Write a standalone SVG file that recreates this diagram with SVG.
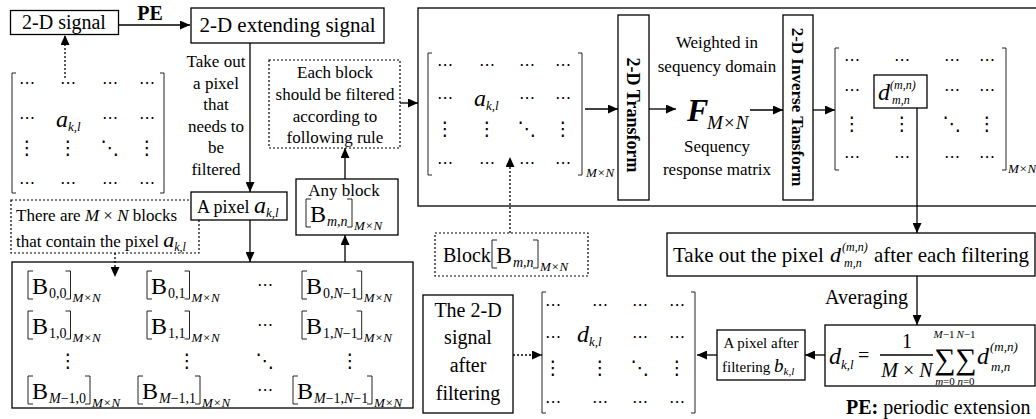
<svg xmlns="http://www.w3.org/2000/svg" width="1036" height="419" viewBox="0 0 1036 419">
<style>
.t{font-family:'Liberation Serif','Times New Roman',serif;fill:#000}
.c{text-anchor:middle}
.e{text-anchor:end}
.i{font-style:italic}
.b{font-weight:bold}
.box{fill:#fff;stroke:#000;stroke-width:1.3}
.dbox{fill:#fff;stroke:#000;stroke-width:1.2;stroke-dasharray:2 2}
.ln{fill:none;stroke:#000;stroke-width:1.3}
.dln{fill:none;stroke:#000;stroke-width:1.3;stroke-dasharray:2 2}
.br{fill:none;stroke:#222;stroke-width:1}
.h{font-family:'DejaVu Sans',sans-serif;font-size:16px;text-anchor:middle;fill:#000}
.v{font-family:'DejaVu Sans',sans-serif;font-size:19px;text-anchor:middle;fill:#000}
</style>
<defs>
<marker id="ah" markerWidth="10" markerHeight="9" refX="10" refY="4.5" orient="auto" markerUnits="userSpaceOnUse"><path d="M0,0 L10,4.5 L0,9 z" fill="#000"/></marker>
</defs>

<g id="signal">
<rect class="box" x="10.5" y="10.5" width="108" height="24"/>
<text class="t c" x="64" y="29" font-size="20">2-D signal</text>
</g>

<g id="extending">
<rect class="box" x="191" y="8" width="193" height="35"/>
<text class="t c" x="287.5" y="32" font-size="21">2-D extending signal</text>
</g>

<g id="matrix-a">
<path class="br" d="M16,73 H12 V193 H16 M160,73 H164 V193 H160"/>
<text class="h" x="27" y="88">⋯</text><text class="h" x="68" y="88">⋯</text><text class="h" x="110" y="88">⋯</text><text class="h" x="147" y="88">⋯</text>
<text class="h" x="27" y="123">⋯</text>
<text class="t i" x="56" y="127" font-size="24">a<tspan font-size="13" dy="4">k,l</tspan></text>
<text class="h" x="110" y="123">⋯</text><text class="h" x="147" y="123">⋯</text>
<text class="v" x="27" y="154">⋮</text><text class="v" x="68" y="154">⋮</text><text class="v" x="110" y="154">⋱</text><text class="v" x="147" y="154">⋮</text>
<text class="h" x="27" y="188">⋯</text><text class="h" x="68" y="188">⋯</text><text class="h" x="110" y="188">⋯</text><text class="h" x="147" y="188">⋯</text>
</g>

<g id="each-block">
<rect class="dbox" x="269" y="60" width="131" height="88"/>
<text class="t c" x="335" y="78" font-size="17">Each block</text>
<text class="t c" x="335" y="100" font-size="17">should be filtered</text>
<text class="t c" x="335" y="122" font-size="17">according to</text>
<text class="t c" x="335" y="143" font-size="17">following rule</text>
</g>

<g id="there-are">
<rect class="dbox" x="11" y="200" width="188" height="53"/>
<text class="t" x="16" y="221" font-size="17">There are <tspan class="i">M</tspan> × <tspan class="i">N</tspan> blocks</text>
<text class="t" x="16" y="247" font-size="17">that contain the pixel <tspan class="i" font-size="22">a</tspan><tspan class="i" font-size="12" dy="4">k,l</tspan></text>
</g>

<g id="a-pixel">
<rect class="box" x="191" y="192" width="96" height="28"/>
<text class="t" x="197" y="213" font-size="18">A pixel <tspan class="i" font-size="24">a</tspan><tspan class="i" font-size="13" dy="4">k,l</tspan></text>
</g>

<g id="any-block">
<rect class="box" x="296" y="179" width="102" height="56"/>
<text class="t c" x="344" y="196" font-size="17">Any block</text>
<path class="br" d="M311,199 H306 V227 H311 M347,199 H352 V227 H347"/>
<text class="t" x="310" y="222" font-size="24">B</text>
<text class="t i" x="327" y="226" font-size="14">m,n</text>
<text class="t i" x="354" y="230" font-size="13">M×N</text>
</g>

<g id="blocks">
<rect class="box" x="12" y="262" width="401" height="146"/>
<path class="br" d="M33,271 H28 V299 H33 M65.5,271 H70.5 V299 H65.5"/>
<text class="t" x="32" y="294" font-size="24">B</text><text class="t" x="49" y="298" font-size="14">0,0</text><text class="t i" x="72.5" y="302" font-size="13">M×N</text>
<path class="br" d="M152,271 H147 V299 H152 M184.5,271 H189.5 V299 H184.5"/>
<text class="t" x="151" y="294" font-size="24">B</text><text class="t" x="168" y="298" font-size="14">0,1</text><text class="t i" x="191.5" y="302" font-size="13">M×N</text>
<text class="h" x="265" y="290">⋯</text>
<path class="br" d="M307,271 H302 V299 H307 M356.7,271 H361.7 V299 H356.7"/>
<text class="t" x="306" y="294" font-size="24">B</text><text class="t" x="323" y="298" font-size="14">0,<tspan class="i">N</tspan>−1</text><text class="t i" x="363.7" y="302" font-size="13">M×N</text>
<path class="br" d="M33,311 H28 V339 H33 M65.5,311 H70.5 V339 H65.5"/>
<text class="t" x="32" y="334" font-size="24">B</text><text class="t" x="49" y="338" font-size="14">1,0</text><text class="t i" x="72.5" y="342" font-size="13">M×N</text>
<path class="br" d="M152,311 H147 V339 H152 M184.5,311 H189.5 V339 H184.5"/>
<text class="t" x="151" y="334" font-size="24">B</text><text class="t" x="168" y="338" font-size="14">1,1</text><text class="t i" x="191.5" y="342" font-size="13">M×N</text>
<text class="h" x="265" y="330">⋯</text>
<path class="br" d="M307,311 H302 V339 H307 M356.7,311 H361.7 V339 H356.7"/>
<text class="t" x="306" y="334" font-size="24">B</text><text class="t" x="323" y="338" font-size="14">1,<tspan class="i">N</tspan>−1</text><text class="t i" x="363.7" y="342" font-size="13">M×N</text>
<text class="v" x="68" y="367">⋮</text><text class="v" x="187" y="367">⋮</text><text class="v" x="265" y="367">⋱</text><text class="v" x="350" y="367">⋮</text>
<path class="br" d="M33,376 H28 V404 H33 M85,376 H90 V404 H85"/>
<text class="t" x="32" y="399" font-size="24">B</text><text class="t" x="49" y="403" font-size="14"><tspan class="i">M</tspan>−1,0</text><text class="t i" x="92" y="407" font-size="13">M×N</text>
<path class="br" d="M143,376 H138 V404 H143 M195,376 H200 V404 H195"/>
<text class="t" x="142" y="399" font-size="24">B</text><text class="t" x="159" y="403" font-size="14"><tspan class="i">M</tspan>−1,1</text><text class="t i" x="202" y="407" font-size="13">M×N</text>
<text class="h" x="265" y="395">⋯</text>
<path class="br" d="M298,376 H293 V404 H298 M367,376 H372 V404 H367"/>
<text class="t" x="297" y="399" font-size="24">B</text><text class="t" x="314" y="403" font-size="14"><tspan class="i">M</tspan>−1,<tspan class="i">N</tspan>−1</text><text class="t i" x="374" y="407" font-size="13">M×N</text>
</g>

<g id="filter-frame">
<rect x="418" y="8" width="630" height="198" fill="none" stroke="#000" stroke-width="1.3"/>
</g>

<g id="matrix-b">
<path class="br" d="M432,53 H428 V175 H432 M578,53 H582 V175 H578"/>
<text class="h" x="445" y="70">⋯</text><text class="h" x="487" y="70">⋯</text><text class="h" x="527" y="70">⋯</text><text class="h" x="563" y="70">⋯</text>
<text class="h" x="445" y="103">⋯</text>
<text class="t i" x="474" y="106" font-size="24">a<tspan font-size="13" dy="4">k,l</tspan></text>
<text class="h" x="527" y="103">⋯</text><text class="h" x="563" y="103">⋯</text>
<text class="v" x="445" y="135">⋮</text><text class="v" x="487" y="135">⋮</text><text class="v" x="527" y="135">⋱</text><text class="v" x="563" y="135">⋮</text>
<text class="h" x="445" y="168">⋯</text><text class="h" x="487" y="168">⋯</text><text class="h" x="527" y="168">⋯</text><text class="h" x="563" y="168">⋯</text>
<text class="t i" x="586" y="177" font-size="13">M×N</text>
</g>

<g id="transform">
<rect class="box" x="618" y="15" width="31" height="185"/>
<text class="t b c" font-size="18" transform="translate(633,115) rotate(90)" dy="6">2-D Transform</text>
</g>

<g id="weight">
<text class="t c" x="717" y="48" font-size="17">Weighted in</text>
<text class="t c" x="717" y="72" font-size="17">sequency domain</text>
<text class="t b i" x="687" y="121" font-size="32">F</text>
<text class="t i" x="707" y="129" font-size="19">M×N</text>
<text class="t c" x="717" y="152" font-size="17">Sequency</text>
<text class="t c" x="717" y="175" font-size="17">response matrix</text>
</g>

<g id="inverse">
<rect class="box" x="783" y="15" width="30" height="185"/>
<text class="t b c" font-size="17" transform="translate(798,107) rotate(90)" dy="6">2-D Inverse Tansform</text>
</g>

<g id="matrix-d">
<path class="br" d="M839,48 H835 V170 H839 M1002,48 H1006 V170 H1002"/>
<text class="h" x="852" y="65">⋯</text><text class="h" x="902" y="65">⋯</text><text class="h" x="952" y="65">⋯</text><text class="h" x="987" y="65">⋯</text>
<text class="h" x="852" y="95">⋯</text>
<rect class="box" x="874" y="75" width="53" height="33"/>
<text class="t i" x="878" y="100" font-size="24">d</text>
<text class="t i" x="890" y="89" font-size="12">(m,n)</text>
<text class="t i" x="892" y="104" font-size="12">m,n</text>
<text class="h" x="952" y="95">⋯</text><text class="h" x="987" y="95">⋯</text>
<text class="v" x="852" y="130">⋮</text><text class="v" x="902" y="130">⋮</text><text class="v" x="952" y="130">⋱</text><text class="v" x="987" y="130">⋮</text>
<text class="h" x="852" y="162">⋯</text><text class="h" x="902" y="162">⋯</text><text class="h" x="952" y="162">⋯</text><text class="h" x="987" y="162">⋯</text>
<text class="t i" x="1008" y="173" font-size="13">M×N</text>
</g>

<g id="block-mn">
<rect class="dbox" x="435" y="233" width="153" height="43"/>
<text class="t" x="443" y="262" font-size="20">Block</text>
<path class="br" d="M497,240 H492 V268 H497 M533,240 H538 V268 H533"/>
<text class="t" x="496" y="263" font-size="24">B</text>
<text class="t i" x="513" y="267" font-size="14">m,n</text>
<text class="t i" x="540" y="271" font-size="13">M×N</text>
</g>

<g id="take-out">
<rect class="box" x="667" y="233" width="368" height="43"/>
<text class="t" x="673" y="262" font-size="21">Take out the pixel</text>
<text class="t i" x="830" y="262" font-size="22">d</text>
<text class="t i" x="842" y="251" font-size="12">(m,n)</text>
<text class="t i" x="844" y="267" font-size="12">m,n</text>
<text class="t e" x="1029" y="262" font-size="21">after each filtering</text>
</g>

<g id="formula">
<rect class="box" x="825" y="325" width="210" height="61"/>
<text class="t i" x="829" y="364" font-size="24">d</text>
<text class="t i" x="841" y="369" font-size="13">k,l</text>
<text class="t" x="858" y="362" font-size="20">=</text>
<text class="t c" x="907" y="348" font-size="20">1</text>
<path class="ln" d="M880,355 H933"/>
<text class="t c i" x="907" y="377" font-size="20">M <tspan font-style="normal">×</tspan> N</text>
<text class="t c i" x="944" y="338" font-size="11">M<tspan font-style="normal">−1</tspan></text>
<text class="t c" x="945" y="369" font-size="30">∑</text>
<text class="t c i" x="945" y="385" font-size="11">m<tspan font-style="normal">=0</tspan></text>
<text class="t c i" x="966" y="338" font-size="11">N<tspan font-style="normal">−1</tspan></text>
<text class="t c" x="966" y="369" font-size="30">∑</text>
<text class="t c i" x="966" y="385" font-size="11">n<tspan font-style="normal">=0</tspan></text>
<text class="t i" x="977" y="364" font-size="24">d</text>
<text class="t i" x="990" y="351" font-size="13">(m,n)</text>
<text class="t i" x="991" y="371" font-size="13">m,n</text>
</g>

<g id="pixel-after">
<rect class="box" x="717" y="330" width="88" height="50"/>
<text class="t c" x="761" y="348" font-size="15">A pixel after</text>
<text class="t" x="722" y="372" font-size="15">filtering <tspan class="i" font-size="19">b</tspan><tspan class="i" font-size="11" dy="3">k,l</tspan></text>
</g>

<g id="matrix-out">
<path class="br" d="M546,292 H542 V413 H546 M691,292 H695 V413 H691"/>
<text class="h" x="553" y="310">⋯</text><text class="h" x="600" y="310">⋯</text><text class="h" x="640" y="310">⋯</text><text class="h" x="677" y="310">⋯</text>
<text class="h" x="553" y="342">⋯</text>
<text class="t i" x="577" y="342" font-size="24">d<tspan font-size="13" dy="4">k,l</tspan></text>
<text class="h" x="640" y="342">⋯</text><text class="h" x="677" y="342">⋯</text>
<text class="v" x="553" y="374">⋮</text><text class="v" x="600" y="374">⋮</text><text class="v" x="640" y="374">⋱</text><text class="v" x="677" y="374">⋮</text>
<text class="h" x="553" y="407">⋯</text><text class="h" x="600" y="407">⋯</text><text class="h" x="640" y="407">⋯</text><text class="h" x="677" y="407">⋯</text>
</g>

<g id="signal-out">
<rect class="box" x="423" y="295" width="90" height="118"/>
<text class="t c" x="468" y="317" font-size="20">The 2-D</text>
<text class="t c" x="468" y="344" font-size="20">signal</text>
<text class="t c" x="468" y="372" font-size="20">after</text>
<text class="t c" x="468" y="400" font-size="20">filtering</text>
</g>

<g id="legend">
<text class="t" x="846" y="414" font-size="20"><tspan class="b">PE:</tspan> periodic extension</text>
</g>

<g id="connectors">
<path class="ln" d="M118,25 H190" marker-end="url(#ah)"/>
<text class="t b c" x="150" y="20" font-size="20">PE</text>
<path class="dln" d="M65,78 V35" marker-end="url(#ah)"/>
<path class="ln" d="M250,43 V192" marker-end="url(#ah)"/>
<text class="t c" x="216" y="67" font-size="17">Take out</text>
<text class="t c" x="216" y="89" font-size="17">a pixel</text>
<text class="t c" x="216" y="110" font-size="17">that</text>
<text class="t c" x="216" y="132" font-size="17">needs to</text>
<text class="t c" x="216" y="153" font-size="17">be</text>
<text class="t c" x="216" y="175" font-size="17">filtered</text>
<path class="dln" d="M115,253 V277" marker-end="url(#ah)"/>
<path class="ln" d="M250,220 V262" marker-end="url(#ah)"/>
<path class="ln" d="M345,262 V235" marker-end="url(#ah)"/>
<path class="ln" d="M345,179 V148" marker-end="url(#ah)"/>
<path class="ln" d="M400,103 H418" marker-end="url(#ah)"/>
<path class="ln" d="M585,109 H618" marker-end="url(#ah)"/>
<path class="ln" d="M649,109 H676" marker-end="url(#ah)"/>
<path class="ln" d="M750,110 H783" marker-end="url(#ah)"/>
<path class="ln" d="M813,110 H835" marker-end="url(#ah)"/>
<path class="ln" d="M917,108 V233" marker-end="url(#ah)"/>
<path class="ln" d="M917,276 V325" marker-end="url(#ah)"/>
<text class="t e" x="908" y="304" font-size="20">Averaging</text>
<path class="ln" d="M825,355 H805" marker-end="url(#ah)"/>
<path class="ln" d="M717,355 H697" marker-end="url(#ah)"/>
<path class="dln" d="M513,355 H542" marker-end="url(#ah)"/>
<path class="dln" d="M510,233 V157" marker-end="url(#ah)"/>
</g>
</svg>
